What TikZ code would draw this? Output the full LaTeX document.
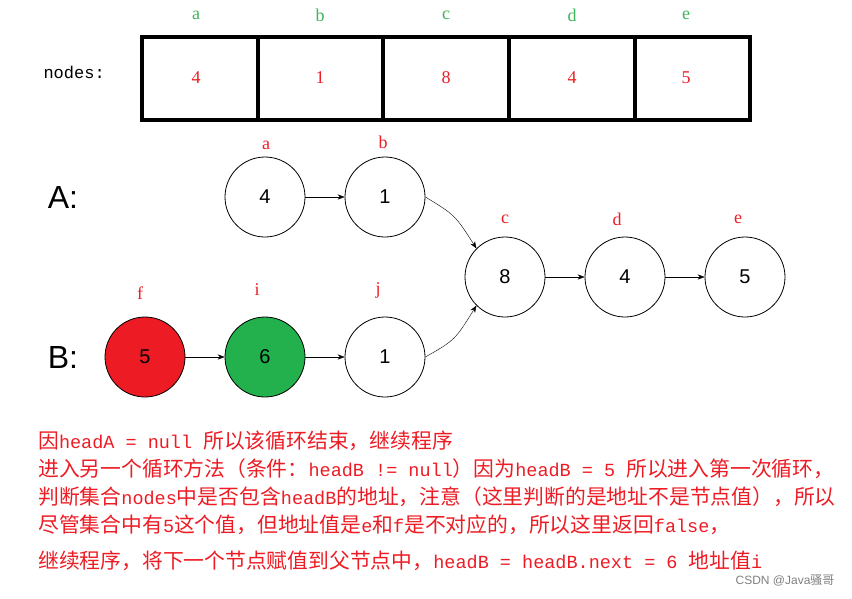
\documentclass[tikz,border=0pt]{standalone}
\usepackage{fontspec}
\setmainfont{Liberation Serif}
\newfontfamily\cjk{Noto Sans CJK SC}
\newfontfamily\arial{Liberation Sans}
\newfontfamily\mono{Liberation Mono}
\newcommand{\mm}[1]{{\mono\fontsize{18.5}{18}\selectfont #1}}
\usetikzlibrary{arrows.meta}
\definecolor{tred}{RGB}{237,28,36}
\definecolor{tgreen}{RGB}{34,177,76}
\definecolor{lgreen}{RGB}{60,180,90}
\begin{document}
\begin{tikzpicture}[x=1pt,y=-1pt,
  nd/.style={circle,draw,thick,minimum size=80pt,inner sep=0pt,font=\arial\fontsize{20}{20}\selectfont},
  lbl/.style={text=tred,font=\fontsize{18}{18}\selectfont},
  glbl/.style={text=lgreen,font=\fontsize{18}{18}\selectfont},
  arr/.style={-{Stealth[length=7pt]},thin},
  txt/.style={anchor=west,text=tred,inner sep=0pt,font=\cjk\fontsize{20.8}{18}\selectfont}]
\useasboundingbox (0,0) rectangle (852,598);
\node[anchor=west,font=\mono\fontsize{17}{17}\selectfont] (lab) at (40,72) {nodes:};
\draw[line width=4pt] (142,37) rectangle (750,120);
\foreach \x in {258,383,509,635} \draw[line width=4pt] (\x,37) -- (\x,120);
\foreach \x/\v/\n in {196/4/a,320/1/b,446/8/c,572/4/d,686/5/e}{
  \node[lbl] (v\n) at (\x,78) {\v};
  \node[glbl] (g\n) at (\x,15) {\n};
}
\node[font=\arial\fontsize{32}{32}\selectfont] (A) at (63,197) {A:};
\node[font=\arial\fontsize{32}{32}\selectfont] (B) at (63,357) {B:};
\node[nd] (na) at (265,197) {4};
\node[nd] (nb) at (385,197) {1};
\node[nd] (nc) at (505,277) {8};
\node[nd] (ndd) at (625,277) {4};
\node[nd] (ne) at (745,277) {5};
\node[nd,fill=tred] (nf) at (145,357) {5};
\node[nd,fill=tgreen] (ni) at (265,357) {6};
\node[nd] (nj) at (385,357) {1};
\node[lbl] at (266,145) {a};
\node[lbl] at (383,142) {b};
\node[lbl] at (505,219) {c};
\node[lbl] at (617,219) {d};
\node[lbl] at (738,219) {e};
\node[lbl] at (140,293) {f};
\node[lbl] at (257,290) {i};
\node[lbl] at (378,290) {j};
\draw[arr] (na) -- (nb);
\draw[arr] (nc) -- (ndd);
\draw[arr] (ndd) -- (ne);
\draw[arr] (nf) -- (ni);
\draw[arr] (ni) -- (nj);
\draw[arr] (nb.east) .. controls (455,215) .. (nc.north west);
\draw[arr] (nj.east) .. controls (455,340) .. (nc.south west);
\node[txt] (t1) at (38,441) {因\mm{headA = null }所以该循环结束，继续程序};
\node[txt] (t2) at (38,469) {进入另一个循环方法（条件：\mm{headB != null}）因为\mm{headB = 5 }所以进入第一次循环，};
\node[txt] (t3) at (38,497) {判断集合\mm{nodes}中是否包含\mm{headB}的地址，注意（这里判断的是地址不是节点值），所以};
\node[txt] (t4) at (38,525) {尽管集合中有\mm{5}这个值，但地址值是\mm{e}和\mm{f}是不对应的，所以这里返回\mm{false}，};
\node[txt] (t5) at (38,561) {继续程序，将下一个节点赋值到父节点中，\mm{headB = headB.next = 6 }地址值\mm{i}};
\node[text=gray,font=\arial\fontsize{12}{12}\selectfont,anchor=east] (wm) at (838,580) {CSDN @Java{\cjk 骚哥}};
\end{tikzpicture}
\end{document}
